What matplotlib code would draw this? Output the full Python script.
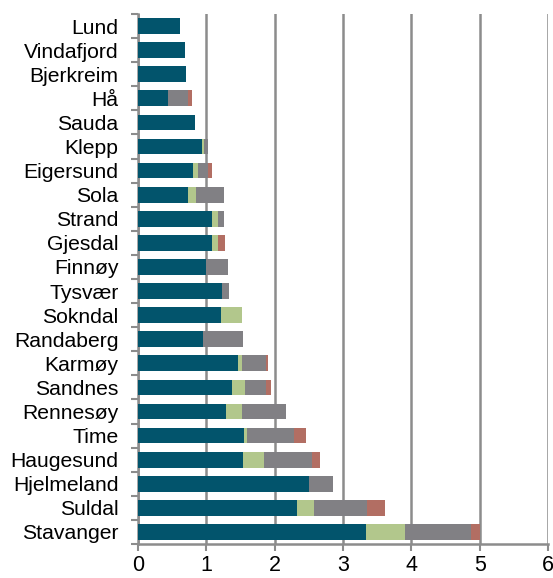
import matplotlib
matplotlib.use("Agg")
import matplotlib.pyplot as plt
import numpy as np

categories = ["Lund", "Vindafjord", "Bjerkreim", "Hå", "Sauda", "Klepp", "Eigersund",
              "Sola", "Strand", "Gjesdal", "Finnøy", "Tysvær", "Sokndal", "Randaberg",
              "Karmøy", "Sandnes", "Rennesøy", "Time", "Haugesund", "Hjelmeland",
              "Suldal", "Stavanger"]
seg1 = [0.62, 0.69, 0.71, 0.44, 0.84, 0.93, 0.81, 0.73, 1.08, 1.08, 0.99, 1.23, 1.21, 0.95,
        1.46, 1.37, 1.29, 1.55, 1.54, 2.50, 2.32, 3.34]
seg2 = [0.00, 0.00, 0.00, 0.00, 0.00, 0.04, 0.07, 0.12, 0.09, 0.09, 0.00, 0.00, 0.31, 0.00,
        0.06, 0.20, 0.23, 0.05, 0.31, 0.00, 0.26, 0.56]
seg3 = [0.00, 0.00, 0.00, 0.29, 0.00, 0.06, 0.14, 0.41, 0.09, 0.00, 0.33, 0.10, 0.00, 0.59,
        0.35, 0.31, 0.64, 0.69, 0.70, 0.36, 0.77, 0.97]
seg4 = [0.00, 0.00, 0.00, 0.06, 0.00, 0.00, 0.06, 0.00, 0.00, 0.10, 0.00, 0.00, 0.00, 0.00,
        0.03, 0.07, 0.00, 0.17, 0.11, 0.00, 0.27, 0.14]
xticks = [0, 1, 2, 3, 4, 5, 6]

colors = ["#02546c", "#b2c78c", "#818084", "#b26e63"]

fig = plt.figure(figsize=(5.53, 5.78), dpi=100)
ax = fig.add_axes([0.2495, 0.0588, 0.7415, 0.917])

n = len(categories)
y = np.arange(n)[::-1]
left = np.zeros(n)
for vals, c in zip([seg1, seg2, seg3, seg4], colors):
    v = np.array(vals)
    ax.barh(y, v, left=left, height=0.65, color=c, zorder=3, linewidth=0)
    left += v

ax.set_xlim(0, 6)
ax.set_ylim(-0.5, n - 0.5)
ax.set_xticks(xticks)
ax.set_xticklabels([str(t) for t in xticks], fontsize=15.5, family="Liberation Sans")
ax.set_yticks(y)
ax.set_yticklabels(categories, fontsize=15.2, family="Liberation Sans")
ax.tick_params(axis="y", which="major", length=0, pad=14)
ax.set_yticks(np.arange(n + 1) - 0.5, minor=True)
ax.tick_params(axis="y", which="minor", length=5, width=1.5, color="#8c8c8c", direction="out")
ax.tick_params(axis="x", which="major", length=5, width=1.5, color="#8c8c8c", direction="out", pad=3)

for s in ["top", "right"]:
    ax.spines[s].set_visible(False)
for s in ["left", "bottom"]:
    ax.spines[s].set_color("#8c8c8c")
    ax.spines[s].set_linewidth(1.8)

ax.grid(axis="x", color="#8c8c8c", linewidth=1.8, zorder=0)
ax.set_axisbelow(True)

fig.savefig("out.png", dpi=100)
